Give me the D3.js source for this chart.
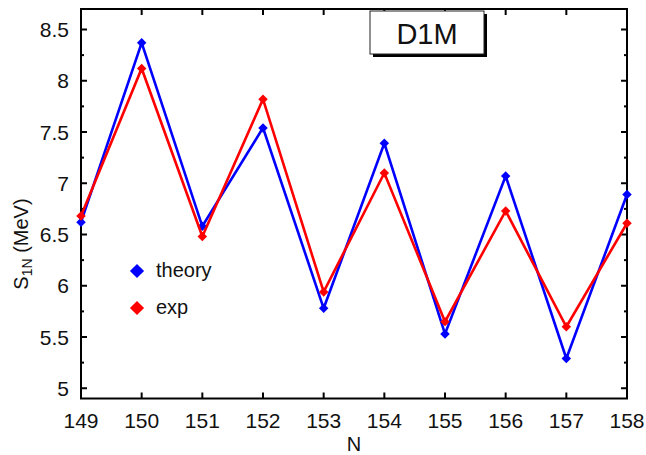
<!DOCTYPE html>
<html><head><meta charset="utf-8">
<script src="https://cdn.jsdelivr.net/npm/d3@7"></script>
<style>body{margin:0;background:#fff}svg text{font-family:"Liberation Sans",Arial,sans-serif}</style>
</head><body>
<svg id="c" width="646" height="455"></svg>
<script>
const N = [149,150,151,152,153,154,155,156,157,158];
const theory = [6.62,8.37,6.58,7.54,5.78,7.39,5.53,7.07,5.29,6.89];
const exp = [6.68,8.12,6.48,7.82,5.94,7.10,5.65,6.73,5.60,6.61];
const yTicks = [5,5.5,6,6.5,7,7.5,8,8.5];
const yTickLabels = ["5","5.5","6","6.5","7","7.5","8","8.5"];
const seriesNames = ["theory","exp"];
const colors = ["#0000ff","#ff0000"];

const svg = d3.select("#c");
const L=81, R=627, T=9, B=398.5;
const x = d3.scaleLinear().domain([149,158]).range([L,R]);
const y = d3.scaleLinear().domain([4.9,8.7]).range([B,T]);
const minorY = d3.range(5,8.75,0.25);

// frame
svg.append("rect").attr("x",L).attr("y",T).attr("width",R-L).attr("height",B-T)
  .attr("fill","none").attr("stroke","#000").attr("stroke-width",2);

const g = svg.append("g");
// ticks inward
N.forEach(v=>{
  g.append("line").attr("x1",x(v)).attr("x2",x(v)).attr("y1",B).attr("y2",B-6).attr("stroke","#000").attr("stroke-width",2);
  g.append("line").attr("x1",x(v)).attr("x2",x(v)).attr("y1",T).attr("y2",T+6).attr("stroke","#000").attr("stroke-width",2);
});
minorY.forEach(v=>{
  const major = yTicks.some(t=>Math.abs(t-v)<1e-9);
  const len = major?6:3;
  g.append("line").attr("x1",L).attr("x2",L+len).attr("y1",y(v)).attr("y2",y(v)).attr("stroke","#000").attr("stroke-width",2);
  g.append("line").attr("x1",R).attr("x2",R-len).attr("y1",y(v)).attr("y2",y(v)).attr("stroke","#000").attr("stroke-width",2);
});
// labels
N.forEach(v=>{
  svg.append("text").attr("x",x(v)).attr("y",428).attr("text-anchor","middle")
    .attr("font-size",21).attr("fill","#111").text(v);
});
yTicks.forEach((v,i)=>{
  svg.append("text").attr("x",69).attr("y",y(v)+7.5).attr("text-anchor","end")
    .attr("font-size",21).attr("fill","#111").text(yTickLabels[i]);
});
svg.append("text").attr("x",(L+R)/2).attr("y",451).attr("text-anchor","middle")
  .attr("font-size",20).attr("fill","#111").text("N");
const yl = svg.append("text").attr("transform","translate(28,244) rotate(-90)")
  .attr("text-anchor","middle").attr("font-size",20).attr("fill","#111");
yl.append("tspan").text("S");
yl.append("tspan").attr("font-size",14).attr("dy",4).text("1N");
yl.append("tspan").attr("dy",-4).text(" (MeV)");

// series
const line = d3.line().x((d,i)=>x(N[i])).y(d=>y(d));
[theory,exp].forEach((s,k)=>{
  svg.append("path").attr("d",line(s)).attr("fill","none").attr("stroke",colors[k]).attr("stroke-width",2.6).attr("stroke-linejoin","miter");
  svg.selectAll(null).data(s).enter().append("path")
    .attr("d",d3.symbol().type(d3.symbolSquare).size(45)())
    .attr("transform",(d,i)=>`translate(${x(N[i])},${y(d)}) rotate(45)`)
    .attr("fill",colors[k]);
});

// legend
seriesNames.forEach((n,k)=>{
  const ly = 271 + k*37;
  svg.append("path").attr("d",d3.symbol().type(d3.symbolSquare).size(100)())
    .attr("transform",`translate(137,${ly}) rotate(45)`).attr("fill",colors[k]);
  svg.append("text").attr("x",156).attr("y",ly+6).attr("font-size",20).attr("fill","#111").text(n);
});

// D1M box
svg.append("rect").attr("x",373).attr("y",14).attr("width",114).attr("height",43).attr("fill","#000");
svg.append("rect").attr("x",370).attr("y",11).attr("width",114).attr("height",43).attr("fill","#fff").attr("stroke","#222").attr("stroke-width",1);
svg.append("text").attr("x",427).attr("y",44).attr("text-anchor","middle").attr("font-size",29).attr("fill","#111").text("D1M");
</script>
</body></html>
